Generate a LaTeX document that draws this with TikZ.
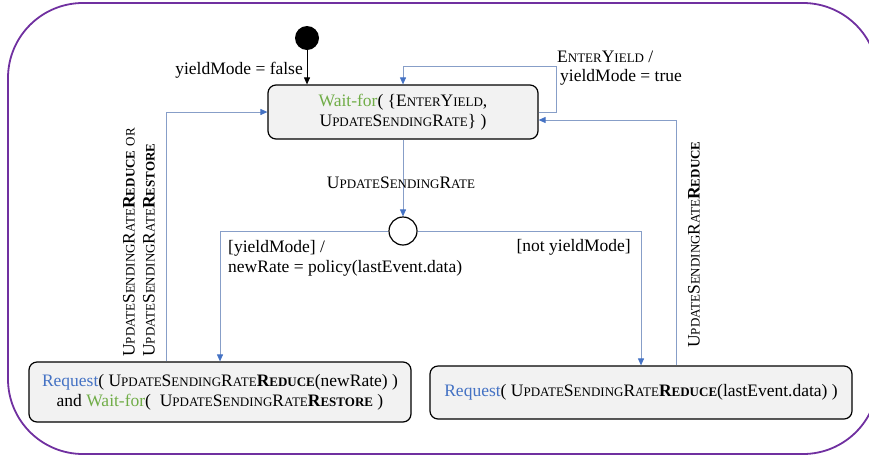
\documentclass[tikz,border=0pt]{standalone}
\usepackage{fontspec}
\setmainfont{Liberation Serif}
\usetikzlibrary{arrows.meta}
\definecolor{lineblue}{RGB}{135,158,200}
\definecolor{tipblue}{RGB}{68,114,196}
\definecolor{waitgreen}{RGB}{112,173,71}
\definecolor{reqblue}{RGB}{68,114,196}
\definecolor{framepurple}{RGB}{112,48,160}
\definecolor{boxfill}{RGB}{242,242,242}
\newcommand\smc[1]{{\fontsize{13}{13}\selectfont #1}}
\newcommand\USR{U\smc{PDATE}S\smc{ENDING}R\smc{ATE}}
\newcommand\EY{E\smc{NTER}Y\smc{IELD}}
\newcommand\RED{\textbf{R\smc{EDUCE}}}
\newcommand\RES{\textbf{R\smc{ESTORE}}}
\begin{document}
\begin{tikzpicture}[x=1pt,y=-1pt,
  every node/.style={font=\fontsize{17.5}{20}\selectfont},
  state/.style={draw=black, line width=1.2pt, fill=boxfill, rounded corners=8pt, inner sep=0pt, align=center},
  trans/.style={draw=lineblue, line width=0.9pt, -{Triangle[length=7pt,width=6pt,color=tipblue]}},
  lbl/.style={inner sep=0pt}]
\useasboundingbox (0,0) rectangle (869,456);
\begin{scope}
  \clip (0,0) rectangle (869,456);
  \draw[framepurple, line width=1.8pt, rounded corners=75pt] (8,3) rectangle (878,454);
\end{scope}

% states
\node[circle, fill=black, minimum size=24pt, inner sep=0pt] (init) at (307,38) {};
\node[state, minimum width=270pt, minimum height=54pt] (top) at (403,112)
  {{\color{waitgreen}Wait-for}( \{\EY,\\ \USR\} )};
\node[circle, draw=black, line width=1.2pt, fill=white, minimum size=28pt, inner sep=0pt] (choice) at (403,231) {};
\node[state, minimum width=382pt, minimum height=60pt] (bl) at (220,392)
  {{\color{reqblue}Request}( \USR\RED(newRate) )\\ and {\color{waitgreen}Wait-for}(\ \ \USR\RES\ )};
\node[state, minimum width=422pt, minimum height=53pt] (br) at (641,392.5)
  {{\color{reqblue}Request}( \USR\RED(lastEvent.data) )};

\coordinate (loopc) at (556,66);
\coordinate (r1) at (166,112);
\coordinate (r2) at (676,120);

% connectors
\draw[black, line width=0.9pt, -{Triangle[length=7pt,width=6pt]}] (init.south) -- (init.south |- top.north);
\draw[trans] (top.east) -| (loopc) -| (top.north);
\draw[trans] (top.south) -- (choice.north);
\draw[trans] (choice.west) -| (bl.north);
\draw[trans] (choice.east) -| (br.north);
\draw[trans] (bl.north -| r1) |- (top.west);
\draw[trans] (br.north -| r2) |- (top.east |- r2);

% labels
\node[lbl, anchor=base east] at (303,74) {yieldMode = false};
\node[lbl, anchor=base west] at (557,62) {\EY\ /};
\node[lbl, anchor=base west] at (560,81) {yieldMode = true};
\node[lbl, anchor=base] at (401,188) {\USR};
\node[lbl, anchor=base west] at (228,252) {[yieldMode] /};
\node[lbl, anchor=base west] at (228,272) {newRate = policy(lastEvent.data)};
\node[lbl, anchor=base east] at (631,251) {[not yieldMode]};
\node[lbl, rotate=90, anchor=west, align=left] at (139,357) {\USR\RED\ \smc{OR}\\ \USR\RES};
\node[lbl, rotate=90, anchor=west] at (694,348) {\USR\RED};
\end{tikzpicture}
\end{document}
